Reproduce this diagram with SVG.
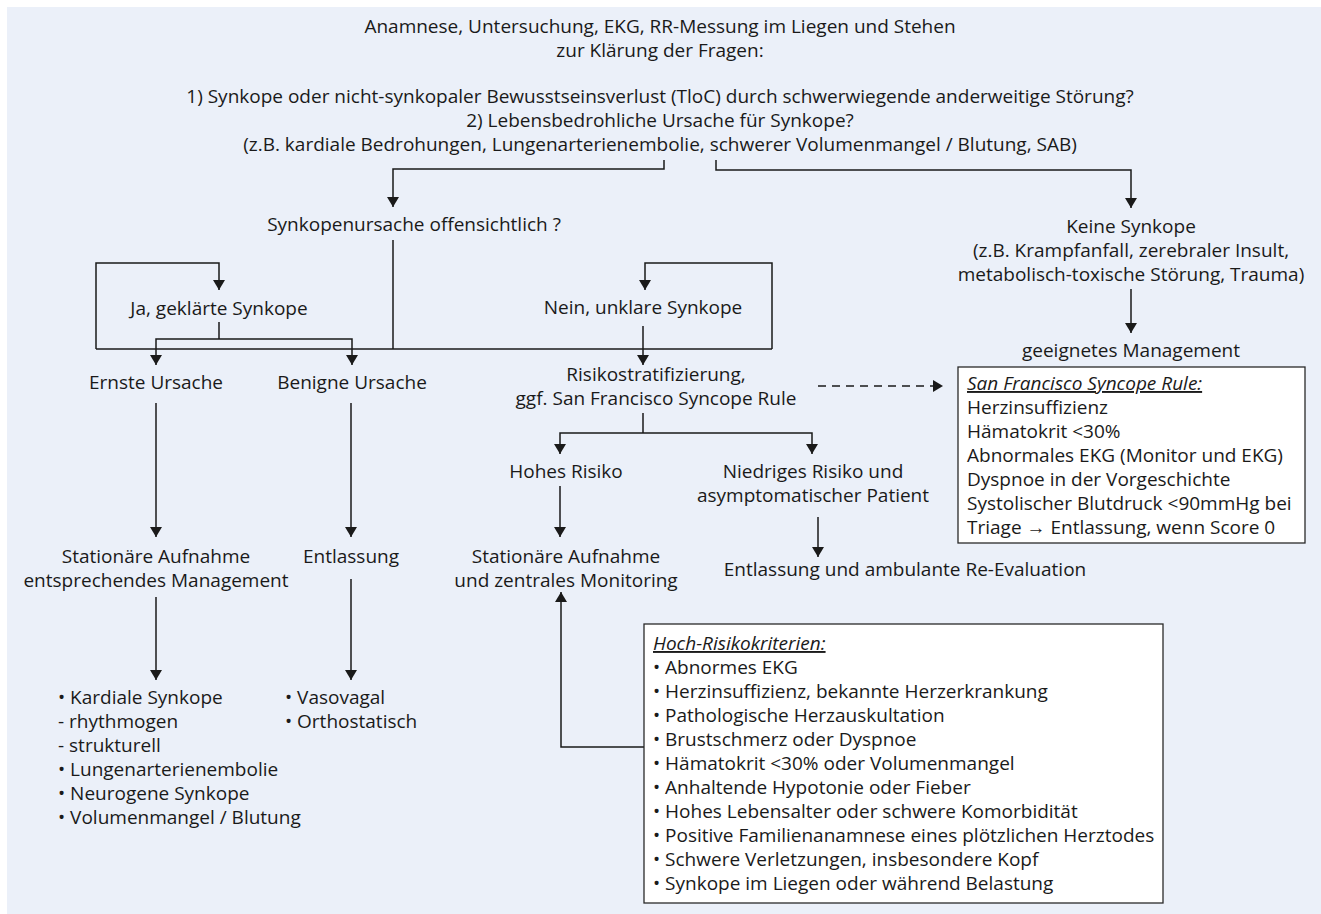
<svg xmlns="http://www.w3.org/2000/svg" width="1321" height="914" viewBox="0 0 1321 914">
<defs>
<style>
text{font-family:"Open Sans","Noto Sans","Liberation Sans",sans-serif;font-size:19px;fill:#1a1a1a}
.c{text-anchor:middle}
.ln{fill:none;stroke:#1a1a1a;stroke-width:1.5}
.ar{marker-end:url(#ah)}
.dash{stroke-dasharray:8,6}
.box{fill:#ffffff;stroke:#2a2a2a;stroke-width:1.3}
.hd{font-style:italic;text-decoration:underline}
</style>
<marker id="ah" viewBox="0 0 10 12" refX="10" refY="6" markerWidth="10" markerHeight="12" orient="auto" markerUnits="userSpaceOnUse">
<path d="M0,0 L10,6 L0,12 z" fill="#1a1a1a"/>
</marker>
</defs>
<rect x="7" y="7" width="1314" height="907" fill="#ebf0f9"/>

<g id="connectors">
<path class="ln ar" d="M664,160 V169 H393 V207"/>
<path class="ln ar" d="M716,160 V170 H1131 V208"/>
<path class="ln" d="M393,240 V349"/>
<path class="ln" d="M96,349 H772"/>
<path class="ln ar" d="M96,349 V263 H219 V290"/>
<path class="ln ar" d="M772,349 V263 H645 V290"/>
<path class="ln" d="M219,322 V339"/>
<path class="ln ar" d="M219,339 H156 V365"/>
<path class="ln ar" d="M219,339 H352 V365"/>
<path class="ln ar" d="M643,326 V365"/>
<path class="ln" d="M643,413 V433"/>
<path class="ln ar" d="M643,433 H560 V454"/>
<path class="ln ar" d="M643,433 H812 V454"/>
<path class="ln ar dash" d="M818,386 H943"/>
<path class="ln ar" d="M1131,289 V333"/>
<path class="ln ar" d="M156,403 V537"/>
<path class="ln ar" d="M351,403 V537"/>
<path class="ln ar" d="M156,597 V680"/>
<path class="ln ar" d="M351,579 V680"/>
<path class="ln ar" d="M560,486 V537"/>
<path class="ln ar" d="M818,517 V557"/>
<path class="ln ar" d="M644,747 H561 V592"/>
</g>

<g id="start">
<text class="c" x="660" y="33">Anamnese, Untersuchung, EKG, RR-Messung im Liegen und Stehen</text>
<text class="c" x="660" y="57">zur Klärung der Fragen:</text>
<text class="c" x="660" y="103">1) Synkope oder nicht-synkopaler Bewusstseinsverlust (TloC) durch schwerwiegende anderweitige Störung?</text>
<text class="c" x="660" y="127">2) Lebensbedrohliche Ursache für Synkope?</text>
<text class="c" x="660" y="151">(z.B. kardiale Bedrohungen, Lungenarterienembolie, schwerer Volumenmangel / Blutung, SAB)</text>
</g>

<g id="offensichtlich">
<text class="c" x="414" y="231">Synkopenursache offensichtlich ?</text>
</g>

<g id="keine-synkope">
<text class="c" x="1131" y="233">Keine Synkope</text>
<text class="c" x="1131" y="257">(z.B. Krampfanfall, zerebraler Insult,</text>
<text class="c" x="1131" y="281">metabolisch-toxische Störung, Trauma)</text>
</g>

<g id="geeignetes-management">
<text class="c" x="1131" y="357">geeignetes Management</text>
</g>

<g id="ja">
<text class="c" x="219" y="315">Ja, geklärte Synkope</text>
</g>

<g id="nein">
<text class="c" x="643" y="314">Nein, unklare Synkope</text>
</g>

<g id="ernste">
<text class="c" x="156" y="389">Ernste Ursache</text>
</g>

<g id="benigne">
<text class="c" x="352" y="389">Benigne Ursache</text>
</g>

<g id="risiko">
<text class="c" x="656" y="381">Risikostratifizierung,</text>
<text class="c" x="656" y="405">ggf. San Francisco Syncope Rule</text>
</g>

<g id="sf-rule">
<rect class="box" x="958" y="367" width="347" height="176"/>
<text class="hd" x="967" y="390">San Francisco Syncope Rule:</text>
<text x="967" y="414">Herzinsuffizienz</text>
<text x="967" y="438">Hämatokrit  &lt;30%</text>
<text x="967" y="462">Abnormales EKG (Monitor und EKG)</text>
<text x="967" y="486">Dyspnoe in der Vorgeschichte</text>
<text x="967" y="510">Systolischer Blutdruck &lt;90mmHg bei</text>
<text x="967" y="534">Triage → Entlassung, wenn Score 0</text>
</g>

<g id="hohes-risiko">
<text class="c" x="566" y="478">Hohes Risiko</text>
</g>

<g id="niedriges-risiko">
<text class="c" x="813" y="478">Niedriges Risiko und</text>
<text class="c" x="813" y="502">asymptomatischer Patient</text>
</g>

<g id="stationaer-monitoring">
<text class="c" x="566" y="563">Stationäre Aufnahme</text>
<text class="c" x="566" y="587">und zentrales Monitoring</text>
</g>

<g id="entlassung-ambulant">
<text class="c" x="905" y="576">Entlassung und ambulante Re-Evaluation</text>
</g>

<g id="stationaer-management">
<text class="c" x="156" y="563">Stationäre Aufnahme</text>
<text class="c" x="156" y="587">entsprechendes Management</text>
</g>

<g id="entlassung">
<text class="c" x="351" y="563">Entlassung</text>
</g>

<g id="ernste-liste">
<text x="58" y="704">• Kardiale Synkope</text>
<text x="58" y="728">- rhythmogen</text>
<text x="58" y="752">- strukturell</text>
<text x="58" y="776">• Lungenarterienembolie</text>
<text x="58" y="800">• Neurogene Synkope</text>
<text x="58" y="824">• Volumenmangel / Blutung</text>
</g>

<g id="benigne-liste">
<text x="285" y="704">• Vasovagal</text>
<text x="285" y="728">• Orthostatisch</text>
</g>

<g id="hoch-risikokriterien">
<rect class="box" x="644" y="624" width="519" height="279"/>
<text class="hd" x="653" y="650">Hoch-Risikokriterien:</text>
<text x="653" y="674">• Abnormes EKG</text>
<text x="653" y="698">• Herzinsuffizienz, bekannte Herzerkrankung</text>
<text x="653" y="722">• Pathologische Herzauskultation</text>
<text x="653" y="746">• Brustschmerz oder Dyspnoe</text>
<text x="653" y="770">• Hämatokrit &lt;30% oder Volumenmangel</text>
<text x="653" y="794">• Anhaltende Hypotonie oder Fieber</text>
<text x="653" y="818">• Hohes Lebensalter oder schwere Komorbidität</text>
<text x="653" y="842">• Positive Familienanamnese eines plötzlichen Herztodes</text>
<text x="653" y="866">• Schwere Verletzungen, insbesondere Kopf</text>
<text x="653" y="890">• Synkope im Liegen oder während Belastung</text>
</g>
</svg>
